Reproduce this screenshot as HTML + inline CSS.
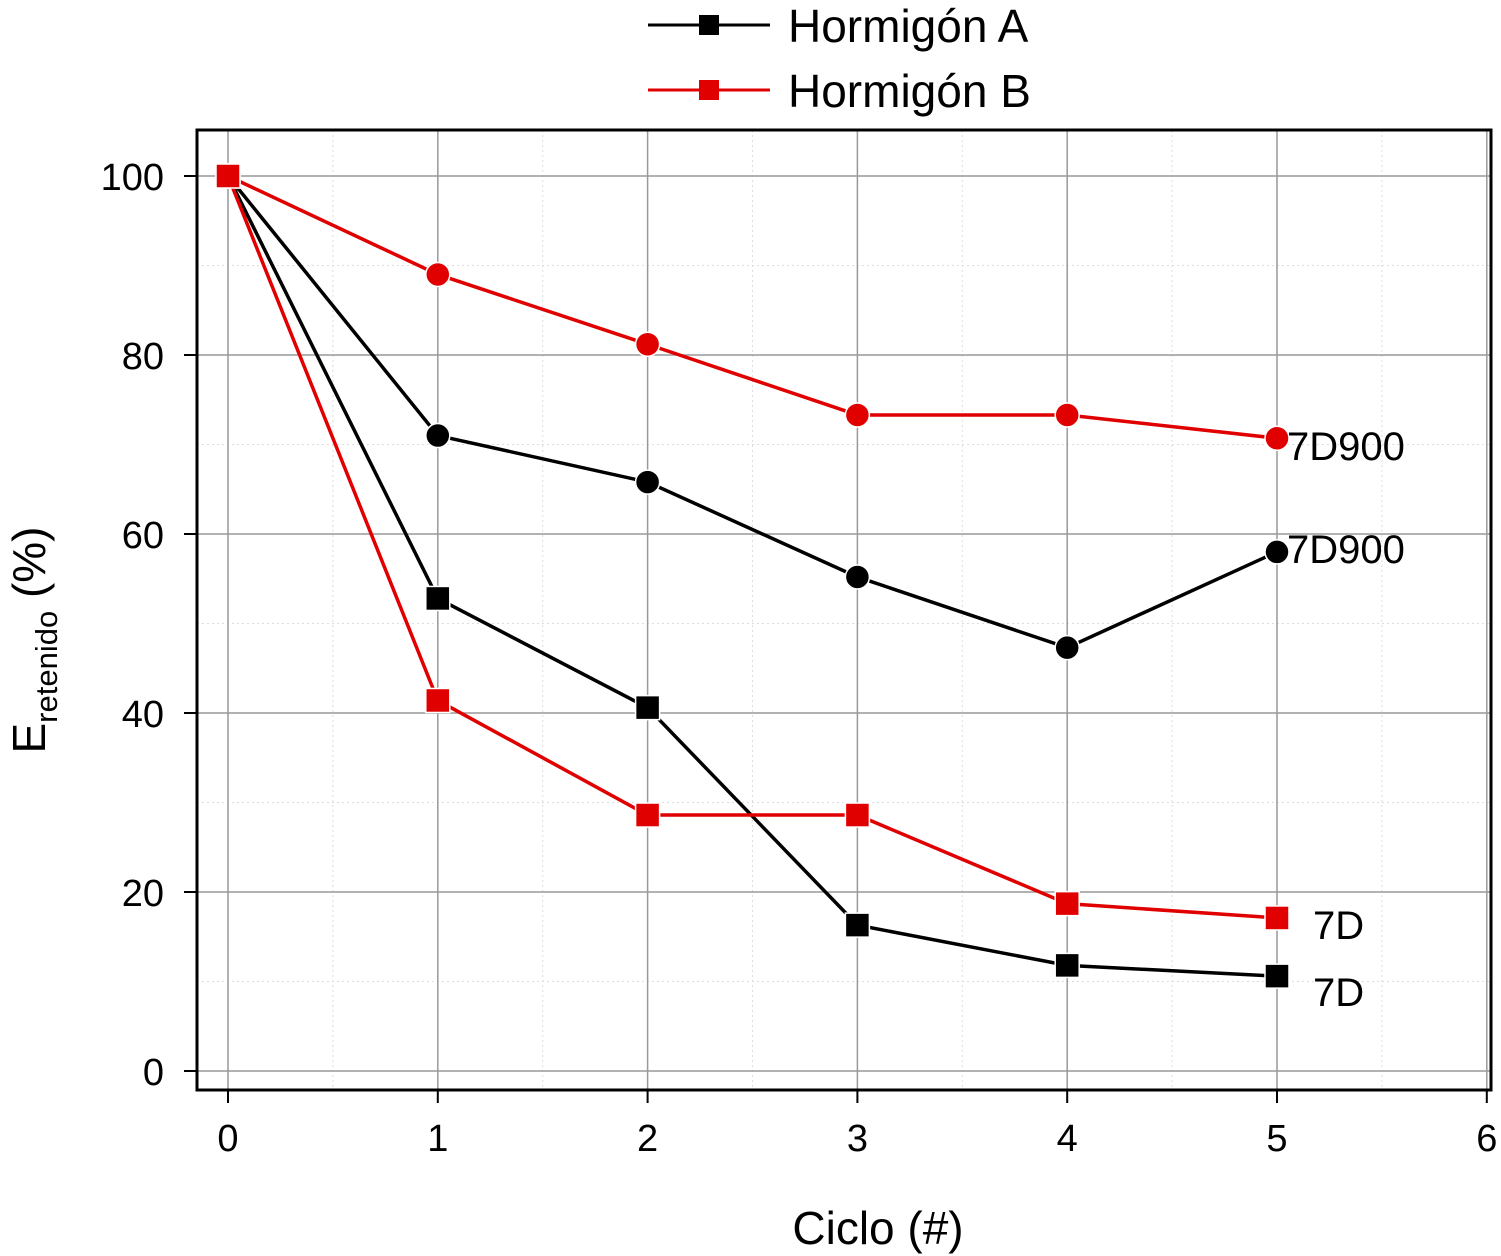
<!DOCTYPE html>
<html><head><meta charset="utf-8"><style>
body{margin:0;background:#fff}
svg{display:block;font-family:"Liberation Sans",Arial,sans-serif}
</style></head><body>
<svg id="chart" width="1501" height="1256" viewBox="0 0 1501 1256">
<g id="grid"></g>
<g id="axes"></g>
<g id="series"></g>
<g id="labels"></g>
<g id="legend">
 <g>
  <line x1="648" y1="25" x2="770" y2="25" stroke="#000" stroke-width="3"/>
  <rect x="699" y="15" width="20" height="20" fill="#000"/>
  <text x="788" y="42" font-size="46" fill="#000">Hormigón A</text>
 </g>
 <g>
  <line x1="648" y1="90" x2="770" y2="90" stroke="#e00000" stroke-width="3"/>
  <rect x="699" y="80" width="20" height="20" fill="#e00000"/>
  <text x="788" y="107" font-size="46" fill="#000">Hormigón B</text>
 </g>
</g>
<text x="878" y="1244" font-size="46" text-anchor="middle">Ciclo (#)</text>
<text transform="translate(45,640) rotate(-90)" font-size="46" text-anchor="middle">E<tspan font-size="31" dy="12">retenido</tspan><tspan dy="-12"> (%)</tspan></text>
</svg>
<script>
const cycles=[0,1,2,3,4,5];
const xTicks=[0,1,2,3,4,5,6];
const yTicks=[0,20,40,60,80,100];
const aCircles=[100,71,65.8,55.2,47.3,58];
const bCircles=[100,89,81.2,73.3,73.3,70.7];
const aSquares=[100,52.8,40.6,16.3,11.8,10.6];
const bSquares=[100,41.4,28.6,28.6,18.7,17.1];
const NS="http://www.w3.org/2000/svg";
const X=v=>228+v*209.8;
const Y=v=>1071-v*8.95;
function mk(tag,attrs,parent){const e=document.createElementNS(NS,tag);for(const k in attrs)e.setAttribute(k,attrs[k]);parent.appendChild(e);return e;}
const grid=document.getElementById('grid'),axes=document.getElementById('axes'),series=document.getElementById('series'),labels=document.getElementById('labels');
for(let v=0.5;v<6;v+=1){const l=mk('line',{x1:X(v),x2:X(v),y1:130,y2:1090,stroke:'#ddd','stroke-width':1,'stroke-dasharray':'2,3'},grid);

}
for(let v=10;v<=90;v+=20){const l=mk('line',{x1:197,x2:1491,y1:Y(v),y2:Y(v),stroke:'#ddd','stroke-width':1,'stroke-dasharray':'2,3'},grid);

}
xTicks.forEach(t=>{const l=mk('line',{x1:X(t),x2:X(t),y1:130,y2:1090,stroke:'#999','stroke-width':1.5},grid);


const tk=mk('line',{x1:X(t),x2:X(t),y1:1090,y2:1103,stroke:'#000','stroke-width':2},axes);


const tx=mk('text',{x:X(t),y:1151,'font-size':38,'text-anchor':'middle'},axes);tx.textContent=t;

});
yTicks.forEach(t=>{const l=mk('line',{x1:197,x2:1491,y1:Y(t),y2:Y(t),stroke:'#999','stroke-width':1.5},grid);


const tk=mk('line',{x1:184,x2:197,y1:Y(t),y2:Y(t),stroke:'#000','stroke-width':2},axes);


const tx=mk('text',{x:164,y:Y(t)+14,'font-size':38,'text-anchor':'end'},axes);tx.textContent=t;

});
const fr=mk('rect',{x:197,y:130,width:1294,height:960,fill:'none',stroke:'#000','stroke-width':3},axes);


function draw(vals,color,shape,name){
 const pl=mk('polyline',{points:vals.map((v,i)=>X(cycles[i])+','+Y(v)).join(' '),fill:'none',stroke:color,'stroke-width':3.5},series);
 
 
 vals.forEach((v,i)=>{let m;
  if(shape==='c')m=mk('circle',{cx:X(cycles[i]),cy:Y(v),r:12,fill:color,stroke:'#fff','stroke-width':1.5},series);
  else m=mk('rect',{x:X(cycles[i])-12,y:Y(v)-12,width:24,height:24,fill:color,stroke:'#fff','stroke-width':1.5},series);
  
  });
}
draw(aCircles,'#000','c','hormigon-a-7d900');
draw(bCircles,'#e00000','c','hormigon-b-7d900');
draw(aSquares,'#000','s','hormigon-a-7d');
draw(bSquares,'#e00000','s','hormigon-b-7d');
[[1287,bCircles[5],'7D900',22],[1287,aCircles[5],'7D900',11],[1313,bSquares[5],'7D',21],[1313,aSquares[5],'7D',30]].forEach(d=>{
 const t=mk('text',{x:d[0],y:Y(d[1])+d[3],'font-size':40},labels);t.textContent=d[2];
 
 });
</script>
</body></html>
